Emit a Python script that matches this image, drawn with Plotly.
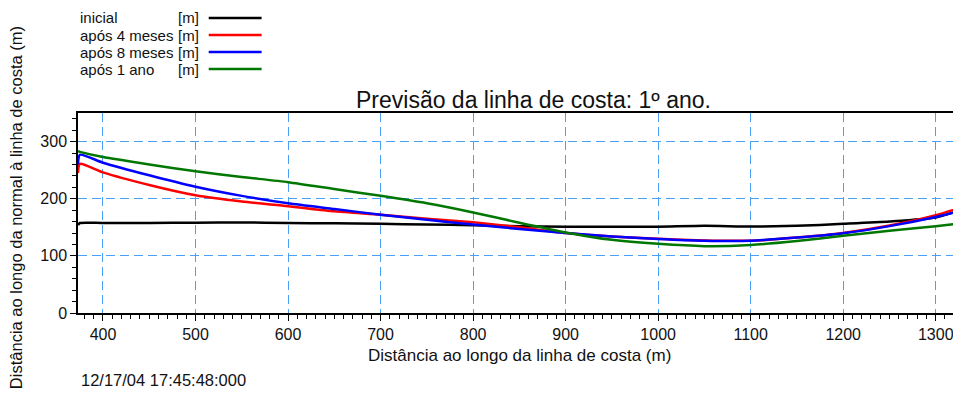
import plotly.graph_objects as go

# ---- data ----
x_pos = [373, 375, 400, 450, 500, 550, 600, 650, 700, 750, 800, 850, 900, 950,
         1000, 1050, 1100, 1150, 1200, 1250, 1300, 1330]
inicial = [154, 157.5, 157.5, 157.5, 158, 158.5, 157.5, 157, 156, 155, 153.5, 152,
           151, 150.8, 151, 152.5, 151.3, 152.5, 156, 160, 167, 182]
apos_4 = [245, 261, 246, 224, 206, 195, 187, 178, 172, 165, 158.7, 150, 140, 134,
          130, 127, 126.5, 132, 140, 153, 171, 186]
apos_8 = [260, 277, 263, 241, 221, 205, 192, 182, 172, 163, 155, 147, 140, 134,
          129.6, 126.6, 126.5, 132, 139.5, 152, 168, 180]
apos_1a = [283, 282, 273, 260, 248, 238, 229, 217, 205, 192, 176, 158, 141, 128,
           121, 117, 119, 126, 135, 144, 152, 157]

series_names = ["inicial", "após 4 meses", "após 8 meses", "após 1 ano"]
series_values = [inicial, apos_4, apos_8, apos_1a]
series_colors = ["#000000", "#ff0000", "#0000ff", "#007700"]

title_text = "Previsão da linha de costa: 1º ano."
x_title = "Distância ao longo da linha de costa (m)"
y_title = "Distância ao longo da normal à linha de costa (m)"
timestamp = "12/17/04 17:45:48:000"

W, H = 1000, 396
ML, MR, MT, MB = 78, 10, 113, 83
PW = W - ML - MR
PH = H - MT - MB

def px2paper(px, py):
    return (px - ML) / PW, (H - MB - py) / PH

FONT = "Liberation Sans, Arial, sans-serif"

fig = go.Figure()
for name, vals, col in zip(series_names, series_values, series_colors):
    fig.add_trace(go.Scatter(x=x_pos, y=vals, mode="lines", name=name,
                             line=dict(color=col, width=2.5, shape="spline", smoothing=0.6),
                             showlegend=False))

annotations = []
shapes = []
rows_y = [18, 35, 52, 69]
for i, (name, col) in enumerate(zip(series_names, series_colors)):
    py = rows_y[i]
    x0, y0 = px2paper(78, py)
    annotations.append(dict(x=x0, y=y0, xref="paper", yref="paper", text=name,
                            showarrow=False, xanchor="left", yanchor="middle",
                            font=dict(family=FONT, size=15, color="#111")))
    x1, _ = px2paper(176, py)
    annotations.append(dict(x=x1, y=y0, xref="paper", yref="paper", text="[m]",
                            showarrow=False, xanchor="left", yanchor="middle",
                            font=dict(family=FONT, size=15, color="#111")))
    lx0, ly = px2paper(209, py)
    lx1, _ = px2paper(262, py)
    shapes.append(dict(type="line", xref="paper", yref="paper", x0=lx0, x1=lx1,
                       y0=ly, y1=ly, line=dict(color=col, width=2.5)))

tx, ty = px2paper(534, 100)
annotations.append(dict(x=tx, y=ty, xref="paper", yref="paper", text=title_text,
                        showarrow=False, xanchor="center", yanchor="middle",
                        font=dict(family=FONT, size=23, color="#111")))
ax, ay = px2paper(520, 355)
annotations.append(dict(x=ax, y=ay, xref="paper", yref="paper", text=x_title,
                        showarrow=False, xanchor="center", yanchor="middle",
                        font=dict(family=FONT, size=17, color="#111")))
sx, sy = px2paper(79, 380)
annotations.append(dict(x=sx, y=sy, xref="paper", yref="paper", text=timestamp,
                        showarrow=False, xanchor="left", yanchor="middle",
                        font=dict(family=FONT, size=16.5, color="#111")))
yx, yy = px2paper(16, 208)
annotations.append(dict(x=yx, y=yy, xref="paper", yref="paper", text=y_title,
                        showarrow=False, xanchor="center", yanchor="middle", textangle=-90,
                        font=dict(family=FONT, size=16.5, color="#111")))

x_max = 373 + (W - MR - 78.3) / 0.927
grid_col = "#4aa0f7"

fig.update_layout(
    width=W, height=H,
    margin=dict(l=ML, r=MR, t=MT, b=MB),
    paper_bgcolor="white", plot_bgcolor="white",
    annotations=annotations, shapes=shapes,
    font=dict(family=FONT, size=16, color="#111"),
)
fig.update_xaxes(range=[373, x_max], tickvals=[400, 500, 600, 700, 800, 900, 1000, 1100, 1200, 1300],
                 showgrid=True, gridcolor=grid_col, griddash="9px,5px", gridwidth=1,
                 showline=True, linecolor="black", linewidth=1.5, mirror=True,
                 ticks="outside", ticklen=6, tickcolor="black",
                 minor=dict(dtick=10, tick0=0, ticks="outside", ticklen=4, tickcolor="black", showgrid=False),
                 tickfont=dict(family=FONT, size=16, color="#111"), zeroline=False)
fig.update_yaxes(range=[0, 350], tickvals=[0, 100, 200, 300],
                 showgrid=True, gridcolor=grid_col, griddash="9px,5px", gridwidth=1,
                 showline=True, linecolor="black", linewidth=1.5, mirror=True,
                 ticks="outside", ticklen=6, tickcolor="black",
                 minor=dict(dtick=20, tick0=0, ticks="outside", ticklen=4, tickcolor="black", showgrid=False),
                 tickfont=dict(family=FONT, size=16, color="#111"), zeroline=False)

fig.write_html("out.html")
